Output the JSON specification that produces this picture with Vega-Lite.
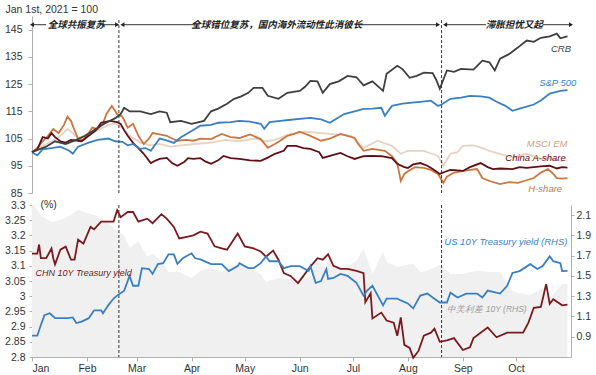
{
"$schema": "https://vega.github.io/schema/vega-lite/v6.json",
"padding": {"left": 4, "top": 4, "right": 4, "bottom": 4},
"bounds": "flush",
"spacing": 12,
"config": {
  "view": {"stroke": null},
  "font": "Liberation Sans",
  "axis": {"labelFont": "Liberation Sans", "labelFontSize": 10.5, "labelColor": "#333333", "domainColor": "#b0b0b0", "tickColor": "#b0b0b0", "grid": false, "titleFont": "Liberation Sans", "titleFontWeight": "normal", "titleFontSize": 10.5, "titleColor": "#333333"}
},
"datasets": {
  "crb": [
    {"d":"2021-01-01","v":100},{"d":"2021-01-05","v":101},{"d":"2021-01-09","v":102},{"d":"2021-01-14","v":104},{"d":"2021-01-20","v":103},{"d":"2021-01-26","v":104.5},{"d":"2021-01-31","v":106},{"d":"2021-02-06","v":108.5},{"d":"2021-02-11","v":110.5},{"d":"2021-02-17","v":112.5},{"d":"2021-02-20","v":114},{"d":"2021-02-22","v":116.3},{"d":"2021-02-25","v":115},{"d":"2021-03-03","v":115},{"d":"2021-03-09","v":114},{"d":"2021-03-14","v":115},{"d":"2021-03-18","v":114.5},{"d":"2021-03-20","v":111},{"d":"2021-03-26","v":111.5},{"d":"2021-04-01","v":110.4},{"d":"2021-04-08","v":111.5},{"d":"2021-04-12","v":115},{"d":"2021-04-16","v":116},{"d":"2021-04-21","v":117.8},{"d":"2021-04-25","v":119.6},{"d":"2021-04-29","v":120.5},{"d":"2021-05-03","v":121.8},{"d":"2021-05-06","v":123.6},{"d":"2021-05-11","v":123.6},{"d":"2021-05-14","v":120.7},{"d":"2021-05-20","v":119.6},{"d":"2021-05-25","v":121.8},{"d":"2021-06-01","v":122.5},{"d":"2021-06-04","v":124},{"d":"2021-06-07","v":126.2},{"d":"2021-06-11","v":126},{"d":"2021-06-14","v":121.8},{"d":"2021-06-18","v":125},{"d":"2021-06-23","v":126},{"d":"2021-06-28","v":128},{"d":"2021-07-03","v":127.5},{"d":"2021-07-07","v":124.5},{"d":"2021-07-12","v":126},{"d":"2021-07-18","v":122.5},{"d":"2021-07-20","v":128.8},{"d":"2021-07-26","v":131.7},{"d":"2021-07-29","v":130.5},{"d":"2021-08-02","v":127.3},{"d":"2021-08-06","v":128},{"d":"2021-08-10","v":129.2},{"d":"2021-08-15","v":129},{"d":"2021-08-17","v":126.5},{"d":"2021-08-19","v":123.3},{"d":"2021-08-23","v":130},{"d":"2021-08-27","v":129.5},{"d":"2021-08-31","v":130.6},{"d":"2021-09-07","v":130.3},{"d":"2021-09-12","v":133.6},{"d":"2021-09-16","v":133},{"d":"2021-09-19","v":130},{"d":"2021-09-22","v":134.3},{"d":"2021-09-27","v":136},{"d":"2021-10-02","v":138.4},{"d":"2021-10-07","v":141},{"d":"2021-10-11","v":140.5},{"d":"2021-10-15","v":142},{"d":"2021-10-20","v":142.5},{"d":"2021-10-24","v":143.5},{"d":"2021-10-26","v":141.8},{"d":"2021-10-30","v":142.5}
  ],
  "spx": [
    {"d":"2021-01-01","v":100},{"d":"2021-01-04","v":98.8},{"d":"2021-01-07","v":101},{"d":"2021-01-12","v":101.5},{"d":"2021-01-17","v":102},{"d":"2021-01-22","v":100.5},{"d":"2021-01-24","v":99.4},{"d":"2021-01-27","v":102},{"d":"2021-02-02","v":103.5},{"d":"2021-02-07","v":104.5},{"d":"2021-02-13","v":105},{"d":"2021-02-17","v":104},{"d":"2021-02-21","v":103.8},{"d":"2021-02-24","v":102.5},{"d":"2021-02-27","v":103},{"d":"2021-03-03","v":101.2},{"d":"2021-03-06","v":101.5},{"d":"2021-03-09","v":100.5},{"d":"2021-03-14","v":105},{"d":"2021-03-17","v":104.5},{"d":"2021-03-22","v":103.4},{"d":"2021-03-26","v":105.5},{"d":"2021-04-01","v":107.8},{"d":"2021-04-06","v":109.7},{"d":"2021-04-12","v":110},{"d":"2021-04-16","v":110.8},{"d":"2021-04-23","v":111},{"d":"2021-04-28","v":111.5},{"d":"2021-05-04","v":111.2},{"d":"2021-05-10","v":110.4},{"d":"2021-05-12","v":108.6},{"d":"2021-05-15","v":111},{"d":"2021-05-21","v":111.5},{"d":"2021-05-27","v":111.9},{"d":"2021-06-01","v":112.2},{"d":"2021-06-07","v":112.6},{"d":"2021-06-13","v":112},{"d":"2021-06-18","v":110.8},{"d":"2021-06-26","v":114},{"d":"2021-07-02","v":115},{"d":"2021-07-07","v":115.9},{"d":"2021-07-12","v":116},{"d":"2021-07-17","v":116.3},{"d":"2021-07-19","v":113.4},{"d":"2021-07-23","v":117},{"d":"2021-07-29","v":117.8},{"d":"2021-08-02","v":118.1},{"d":"2021-08-08","v":118.5},{"d":"2021-08-14","v":118.9},{"d":"2021-08-18","v":117},{"d":"2021-08-20","v":117.5},{"d":"2021-08-25","v":119.6},{"d":"2021-08-31","v":120},{"d":"2021-09-05","v":120.7},{"d":"2021-09-11","v":120.5},{"d":"2021-09-16","v":120},{"d":"2021-09-20","v":118.5},{"d":"2021-09-25","v":117},{"d":"2021-09-29","v":115.2},{"d":"2021-10-03","v":116},{"d":"2021-10-11","v":117.5},{"d":"2021-10-15","v":119},{"d":"2021-10-20","v":121.5},{"d":"2021-10-26","v":122.5},{"d":"2021-10-30","v":122.8}
  ],
  "csi": [
    {"d":"2021-01-01","v":100},{"d":"2021-01-04","v":101},{"d":"2021-01-07","v":105.5},{"d":"2021-01-10","v":105},{"d":"2021-01-12","v":107},{"d":"2021-01-14","v":105.5},{"d":"2021-01-17","v":104},{"d":"2021-01-20","v":103.5},{"d":"2021-01-23","v":104.5},{"d":"2021-01-29","v":104},{"d":"2021-01-31","v":105},{"d":"2021-02-06","v":108},{"d":"2021-02-09","v":110.8},{"d":"2021-02-14","v":111.5},{"d":"2021-02-18","v":111},{"d":"2021-02-20","v":110.4},{"d":"2021-02-22","v":108},{"d":"2021-02-24","v":106},{"d":"2021-02-27","v":103.4},{"d":"2021-03-02","v":101.5},{"d":"2021-03-05","v":99.4},{"d":"2021-03-09","v":96},{"d":"2021-03-12","v":97},{"d":"2021-03-14","v":97.5},{"d":"2021-03-18","v":97.9},{"d":"2021-03-21","v":96},{"d":"2021-03-24","v":95},{"d":"2021-03-28","v":96.5},{"d":"2021-03-30","v":97.8},{"d":"2021-04-02","v":97.5},{"d":"2021-04-06","v":97.8},{"d":"2021-04-09","v":96.5},{"d":"2021-04-12","v":95.7},{"d":"2021-04-16","v":97},{"d":"2021-04-19","v":98.6},{"d":"2021-04-23","v":97.8},{"d":"2021-04-28","v":97.5},{"d":"2021-05-04","v":97},{"d":"2021-05-10","v":96.8},{"d":"2021-05-14","v":98},{"d":"2021-05-18","v":99.4},{"d":"2021-05-23","v":100.5},{"d":"2021-05-25","v":102.3},{"d":"2021-05-30","v":102.3},{"d":"2021-06-03","v":101.5},{"d":"2021-06-07","v":101.2},{"d":"2021-06-12","v":100},{"d":"2021-06-14","v":97.9},{"d":"2021-06-20","v":99},{"d":"2021-06-24","v":99.7},{"d":"2021-06-28","v":98.5},{"d":"2021-07-02","v":97.5},{"d":"2021-07-07","v":98.5},{"d":"2021-07-11","v":98.6},{"d":"2021-07-17","v":98.5},{"d":"2021-07-23","v":97.8},{"d":"2021-07-26","v":95.7},{"d":"2021-07-30","v":94.5},{"d":"2021-08-01","v":94.2},{"d":"2021-08-04","v":95.5},{"d":"2021-08-08","v":96},{"d":"2021-08-12","v":95},{"d":"2021-08-15","v":93.8},{"d":"2021-08-19","v":92},{"d":"2021-08-22","v":92.8},{"d":"2021-08-25","v":93.5},{"d":"2021-08-29","v":93.3},{"d":"2021-09-01","v":93.1},{"d":"2021-09-05","v":94.5},{"d":"2021-09-11","v":96},{"d":"2021-09-15","v":94.5},{"d":"2021-09-18","v":93.8},{"d":"2021-09-22","v":94},{"d":"2021-09-29","v":93.8},{"d":"2021-10-03","v":94.5},{"d":"2021-10-07","v":94.2},{"d":"2021-10-15","v":94.8},{"d":"2021-10-20","v":95},{"d":"2021-10-24","v":94},{"d":"2021-10-27","v":94.5},{"d":"2021-10-30","v":94.3}
  ],
  "hsi": [
    {"d":"2021-01-01","v":100},{"d":"2021-01-04","v":101.5},{"d":"2021-01-07","v":104},{"d":"2021-01-10","v":106},{"d":"2021-01-13","v":108.5},{"d":"2021-01-16","v":107},{"d":"2021-01-19","v":110},{"d":"2021-01-21","v":113},{"d":"2021-01-23","v":111.5},{"d":"2021-01-25","v":108},{"d":"2021-01-27","v":105},{"d":"2021-01-30","v":104.5},{"d":"2021-02-02","v":107},{"d":"2021-02-04","v":109},{"d":"2021-02-07","v":108.5},{"d":"2021-02-10","v":110.5},{"d":"2021-02-12","v":114},{"d":"2021-02-15","v":117},{"d":"2021-02-18","v":114},{"d":"2021-02-21","v":113},{"d":"2021-02-24","v":109},{"d":"2021-02-27","v":110.4},{"d":"2021-03-02","v":106},{"d":"2021-03-05","v":103},{"d":"2021-03-08","v":105},{"d":"2021-03-10","v":107},{"d":"2021-03-14","v":106.5},{"d":"2021-03-18","v":106},{"d":"2021-03-21","v":105},{"d":"2021-03-24","v":104.2},{"d":"2021-03-29","v":104.5},{"d":"2021-04-02","v":104.2},{"d":"2021-04-06","v":105},{"d":"2021-04-12","v":104.8},{"d":"2021-04-18","v":106.7},{"d":"2021-04-23","v":105.5},{"d":"2021-04-28","v":105.2},{"d":"2021-05-04","v":106.5},{"d":"2021-05-10","v":104.8},{"d":"2021-05-14","v":101.6},{"d":"2021-05-18","v":103},{"d":"2021-05-21","v":104.2},{"d":"2021-05-25","v":106},{"d":"2021-05-29","v":106.7},{"d":"2021-06-01","v":107.5},{"d":"2021-06-07","v":106},{"d":"2021-06-13","v":104.2},{"d":"2021-06-18","v":105},{"d":"2021-06-24","v":106.7},{"d":"2021-06-28","v":106},{"d":"2021-07-02","v":105.2},{"d":"2021-07-04","v":103},{"d":"2021-07-07","v":100.5},{"d":"2021-07-12","v":101.2},{"d":"2021-07-19","v":100.5},{"d":"2021-07-23","v":98.5},{"d":"2021-07-26","v":96},{"d":"2021-07-28","v":89.4},{"d":"2021-07-30","v":92},{"d":"2021-08-01","v":93},{"d":"2021-08-05","v":94.5},{"d":"2021-08-10","v":94.2},{"d":"2021-08-14","v":93.5},{"d":"2021-08-18","v":92},{"d":"2021-08-21","v":88.7},{"d":"2021-08-23","v":91},{"d":"2021-08-27","v":92.5},{"d":"2021-09-01","v":93},{"d":"2021-09-05","v":93.5},{"d":"2021-09-09","v":93.8},{"d":"2021-09-12","v":90.5},{"d":"2021-09-16","v":89.4},{"d":"2021-09-22","v":88.3},{"d":"2021-09-27","v":89},{"d":"2021-10-02","v":88.7},{"d":"2021-10-06","v":89.5},{"d":"2021-10-11","v":90.5},{"d":"2021-10-15","v":92.5},{"d":"2021-10-19","v":93.8},{"d":"2021-10-22","v":92},{"d":"2021-10-24","v":90.5},{"d":"2021-10-27","v":90.3},{"d":"2021-10-30","v":90.5}
  ],
  "msci": [
    {"d":"2021-01-01","v":100},{"d":"2021-01-06","v":102},{"d":"2021-01-12","v":104},{"d":"2021-01-17","v":106},{"d":"2021-01-21","v":108.5},{"d":"2021-01-24","v":107},{"d":"2021-01-27","v":105},{"d":"2021-02-02","v":107},{"d":"2021-02-07","v":108},{"d":"2021-02-13","v":110},{"d":"2021-02-17","v":110.5},{"d":"2021-02-21","v":109},{"d":"2021-02-25","v":106},{"d":"2021-03-03","v":103.5},{"d":"2021-03-09","v":102.5},{"d":"2021-03-14","v":103},{"d":"2021-03-20","v":102},{"d":"2021-03-26","v":102.5},{"d":"2021-04-03","v":103},{"d":"2021-04-12","v":103.5},{"d":"2021-04-20","v":104.5},{"d":"2021-04-28","v":104},{"d":"2021-05-07","v":105},{"d":"2021-05-13","v":104},{"d":"2021-05-18","v":104.5},{"d":"2021-05-27","v":106.7},{"d":"2021-06-04","v":107.5},{"d":"2021-06-13","v":107},{"d":"2021-06-21","v":106.5},{"d":"2021-06-30","v":106},{"d":"2021-07-07","v":101.6},{"d":"2021-07-15","v":104.2},{"d":"2021-07-23","v":102.3},{"d":"2021-07-28","v":99.4},{"d":"2021-08-01","v":100.5},{"d":"2021-08-04","v":100.5},{"d":"2021-08-10","v":100.5},{"d":"2021-08-14","v":99.5},{"d":"2021-08-18","v":98.6},{"d":"2021-08-21","v":95},{"d":"2021-08-25","v":99.4},{"d":"2021-08-29","v":100},{"d":"2021-09-01","v":102.3},{"d":"2021-09-07","v":102.5},{"d":"2021-09-12","v":101.5},{"d":"2021-09-16","v":100.5},{"d":"2021-09-22","v":99.4},{"d":"2021-09-29","v":97.9},{"d":"2021-10-07","v":99.4},{"d":"2021-10-15","v":97.5},{"d":"2021-10-20","v":97.8},{"d":"2021-10-26","v":96.8},{"d":"2021-10-30","v":97}
  ],
  "cn10": [
    {"d":"2021-01-01","v":3.14},{"d":"2021-01-04","v":3.14},{"d":"2021-01-05","v":3.17},{"d":"2021-01-06","v":3.125},{"d":"2021-01-09","v":3.125},{"d":"2021-01-12","v":3.157},{"d":"2021-01-13","v":3.125},{"d":"2021-01-14","v":3.105},{"d":"2021-01-17","v":3.153},{"d":"2021-01-20","v":3.163},{"d":"2021-01-23","v":3.12},{"d":"2021-01-25","v":3.12},{"d":"2021-01-27","v":3.186},{"d":"2021-01-30","v":3.173},{"d":"2021-02-03","v":3.228},{"d":"2021-02-05","v":3.22},{"d":"2021-02-09","v":3.245},{"d":"2021-02-16","v":3.245},{"d":"2021-02-18","v":3.283},{"d":"2021-02-20","v":3.26},{"d":"2021-02-24","v":3.277},{"d":"2021-02-27","v":3.277},{"d":"2021-03-02","v":3.245},{"d":"2021-03-07","v":3.255},{"d":"2021-03-10","v":3.24},{"d":"2021-03-15","v":3.27},{"d":"2021-03-18","v":3.255},{"d":"2021-03-22","v":3.228},{"d":"2021-03-25","v":3.19},{"d":"2021-03-30","v":3.196},{"d":"2021-04-02","v":3.2},{"d":"2021-04-06","v":3.212},{"d":"2021-04-10","v":3.206},{"d":"2021-04-14","v":3.164},{"d":"2021-04-18","v":3.157},{"d":"2021-04-21","v":3.153},{"d":"2021-04-27","v":3.206},{"d":"2021-05-01","v":3.164},{"d":"2021-05-06","v":3.157},{"d":"2021-05-10","v":3.147},{"d":"2021-05-13","v":3.13},{"d":"2021-05-17","v":3.15},{"d":"2021-05-20","v":3.12},{"d":"2021-05-23","v":3.076},{"d":"2021-05-27","v":3.066},{"d":"2021-05-31","v":3.043},{"d":"2021-06-03","v":3.066},{"d":"2021-06-06","v":3.09},{"d":"2021-06-11","v":3.125},{"d":"2021-06-14","v":3.12},{"d":"2021-06-17","v":3.138},{"d":"2021-06-20","v":3.1},{"d":"2021-06-24","v":3.09},{"d":"2021-06-28","v":3.09},{"d":"2021-07-03","v":3.083},{"d":"2021-07-07","v":3.076},{"d":"2021-07-08","v":2.98},{"d":"2021-07-11","v":3.01},{"d":"2021-07-12","v":2.927},{"d":"2021-07-17","v":2.946},{"d":"2021-07-20","v":2.92},{"d":"2021-07-24","v":2.913},{"d":"2021-07-26","v":2.87},{"d":"2021-07-28","v":2.93},{"d":"2021-07-30","v":2.84},{"d":"2021-08-02","v":2.83},{"d":"2021-08-04","v":2.797},{"d":"2021-08-07","v":2.82},{"d":"2021-08-10","v":2.87},{"d":"2021-08-14","v":2.88},{"d":"2021-08-16","v":2.893},{"d":"2021-08-19","v":2.85},{"d":"2021-08-23","v":2.855},{"d":"2021-08-27","v":2.862},{"d":"2021-09-01","v":2.823},{"d":"2021-09-05","v":2.832},{"d":"2021-09-07","v":2.862},{"d":"2021-09-15","v":2.897},{"d":"2021-09-20","v":2.865},{"d":"2021-09-26","v":2.88},{"d":"2021-10-05","v":2.88},{"d":"2021-10-08","v":2.913},{"d":"2021-10-11","v":2.962},{"d":"2021-10-15","v":2.965},{"d":"2021-10-18","v":3.04},{"d":"2021-10-20","v":2.975},{"d":"2021-10-22","v":2.99},{"d":"2021-10-27","v":2.97},{"d":"2021-10-30","v":2.972}
  ],
  "us10": [
    {"d":"2021-01-01","v":0.91},{"d":"2021-01-04","v":0.91},{"d":"2021-01-06","v":1.016},{"d":"2021-01-08","v":1.113},{"d":"2021-01-11","v":1.132},{"d":"2021-01-13","v":1.1},{"d":"2021-01-14","v":1.083},{"d":"2021-01-21","v":1.083},{"d":"2021-01-24","v":1.09},{"d":"2021-01-26","v":1.035},{"d":"2021-01-29","v":1.05},{"d":"2021-02-02","v":1.083},{"d":"2021-02-05","v":1.161},{"d":"2021-02-09","v":1.161},{"d":"2021-02-10","v":1.132},{"d":"2021-02-13","v":1.21},{"d":"2021-02-16","v":1.277},{"d":"2021-02-18","v":1.306},{"d":"2021-02-22","v":1.355},{"d":"2021-02-25","v":1.5},{"d":"2021-02-27","v":1.403},{"d":"2021-03-02","v":1.403},{"d":"2021-03-04","v":1.577},{"d":"2021-03-08","v":1.568},{"d":"2021-03-10","v":1.52},{"d":"2021-03-13","v":1.616},{"d":"2021-03-16","v":1.626},{"d":"2021-03-19","v":1.713},{"d":"2021-03-22","v":1.713},{"d":"2021-03-24","v":1.62},{"d":"2021-03-27","v":1.674},{"d":"2021-04-01","v":1.723},{"d":"2021-04-03","v":1.674},{"d":"2021-04-06","v":1.664},{"d":"2021-04-12","v":1.616},{"d":"2021-04-18","v":1.616},{"d":"2021-04-22","v":1.548},{"d":"2021-04-27","v":1.597},{"d":"2021-04-28","v":1.626},{"d":"2021-05-03","v":1.577},{"d":"2021-05-06","v":1.577},{"d":"2021-05-10","v":1.626},{"d":"2021-05-13","v":1.693},{"d":"2021-05-15","v":1.645},{"d":"2021-05-20","v":1.645},{"d":"2021-05-23","v":1.577},{"d":"2021-05-27","v":1.597},{"d":"2021-06-01","v":1.597},{"d":"2021-06-06","v":1.548},{"d":"2021-06-07","v":1.597},{"d":"2021-06-10","v":1.432},{"d":"2021-06-13","v":1.45},{"d":"2021-06-16","v":1.568},{"d":"2021-06-17","v":1.471},{"d":"2021-06-20","v":1.48},{"d":"2021-06-24","v":1.52},{"d":"2021-06-28","v":1.5},{"d":"2021-07-03","v":1.432},{"d":"2021-07-07","v":1.306},{"d":"2021-07-09","v":1.355},{"d":"2021-07-12","v":1.403},{"d":"2021-07-18","v":1.21},{"d":"2021-07-20","v":1.277},{"d":"2021-07-26","v":1.277},{"d":"2021-07-28","v":1.258},{"d":"2021-08-01","v":1.229},{"d":"2021-08-04","v":1.18},{"d":"2021-08-08","v":1.306},{"d":"2021-08-12","v":1.326},{"d":"2021-08-15","v":1.287},{"d":"2021-08-19","v":1.238},{"d":"2021-08-23","v":1.238},{"d":"2021-08-25","v":1.335},{"d":"2021-08-29","v":1.287},{"d":"2021-09-03","v":1.326},{"d":"2021-09-09","v":1.326},{"d":"2021-09-12","v":1.287},{"d":"2021-09-15","v":1.355},{"d":"2021-09-22","v":1.326},{"d":"2021-09-26","v":1.403},{"d":"2021-09-29","v":1.529},{"d":"2021-10-03","v":1.548},{"d":"2021-10-09","v":1.616},{"d":"2021-10-13","v":1.568},{"d":"2021-10-16","v":1.597},{"d":"2021-10-20","v":1.693},{"d":"2021-10-22","v":1.645},{"d":"2021-10-26","v":1.626},{"d":"2021-10-27","v":1.548},{"d":"2021-10-30","v":1.55}
  ],
  "spread": [
    {"d":"2021-01-01","v":2.23},{"d":"2021-01-06","v":2.1},{"d":"2021-01-12","v":2.03},{"d":"2021-01-20","v":2.07},{"d":"2021-01-27","v":2.15},{"d":"2021-02-03","v":2.11},{"d":"2021-02-09","v":2.08},{"d":"2021-02-16","v":1.97},{"d":"2021-02-22","v":1.9},{"d":"2021-02-25","v":1.78},{"d":"2021-03-02","v":1.84},{"d":"2021-03-07","v":1.69},{"d":"2021-03-10","v":1.72},{"d":"2021-03-15","v":1.65},{"d":"2021-03-19","v":1.54},{"d":"2021-03-25","v":1.54},{"d":"2021-04-01","v":1.48},{"d":"2021-04-06","v":1.55},{"d":"2021-04-12","v":1.58},{"d":"2021-04-18","v":1.54},{"d":"2021-04-22","v":1.6},{"d":"2021-04-27","v":1.61},{"d":"2021-05-03","v":1.59},{"d":"2021-05-10","v":1.52},{"d":"2021-05-13","v":1.44},{"d":"2021-05-20","v":1.48},{"d":"2021-05-27","v":1.47},{"d":"2021-06-01","v":1.45},{"d":"2021-06-07","v":1.49},{"d":"2021-06-10","v":1.68},{"d":"2021-06-16","v":1.56},{"d":"2021-06-17","v":1.67},{"d":"2021-06-24","v":1.57},{"d":"2021-06-28","v":1.59},{"d":"2021-07-03","v":1.65},{"d":"2021-07-07","v":1.77},{"d":"2021-07-12","v":1.52},{"d":"2021-07-18","v":1.74},{"d":"2021-07-20","v":1.64},{"d":"2021-07-26","v":1.59},{"d":"2021-08-01","v":1.61},{"d":"2021-08-04","v":1.62},{"d":"2021-08-08","v":1.54},{"d":"2021-08-12","v":1.55},{"d":"2021-08-19","v":1.61},{"d":"2021-08-25","v":1.52},{"d":"2021-09-01","v":1.52},{"d":"2021-09-09","v":1.55},{"d":"2021-09-15","v":1.54},{"d":"2021-09-22","v":1.54},{"d":"2021-09-29","v":1.35},{"d":"2021-10-03","v":1.33},{"d":"2021-10-09","v":1.31},{"d":"2021-10-16","v":1.38},{"d":"2021-10-20","v":1.28},{"d":"2021-10-27","v":1.42},{"d":"2021-10-30","v":1.42}
  ],
  "phases": [
    {"d":"2021-02-19","v":148.5,"v2":85},{"d":"2021-08-20","v":148.5,"v2":85}
  ]
},
"vconcat": [
  {
    "width": 539,
    "height": 177,
    "encoding": {
      "x": {"field": "d", "type": "temporal", "scale": {"type": "utc", "domain": [{"year": 2021, "month": 1, "date": 1, "utc": true}, {"year": 2021, "month": 11, "date": 1, "utc": true}]}, "axis": null},
      "y": {"field": "v", "type": "quantitative", "scale": {"domain": [85, 150]}, "axis": {"values": [85, 95, 105, 115, 125, 135, 145], "title": "Jan 1st, 2021 = 100", "titleAngle": 0, "titleAlign": "left", "titleBaseline": "top", "titleX": -27, "titleY": -12, "tickSize": 4, "labelPadding": 6}}
    },
    "layer": [
      {"data": {"name": "msci"}, "mark": {"type": "line", "color": "#e6d3c1", "strokeWidth": 1.8}},
      {"data": {"name": "hsi"}, "mark": {"type": "line", "color": "#cc7640", "strokeWidth": 1.8}},
      {"data": {"name": "csi"}, "mark": {"type": "line", "color": "#5e1015", "strokeWidth": 1.8}},
      {"data": {"name": "spx"}, "mark": {"type": "line", "color": "#3a7fc1", "strokeWidth": 1.8}},
      {"data": {"name": "crb"}, "mark": {"type": "line", "color": "#3f3f3f", "strokeWidth": 1.8}},
      {
        "data": {"name": "phases"},
        "mark": {"type": "rule", "color": "#333333", "strokeDash": [3, 2], "strokeWidth": 1},
        "encoding": {"y2": {"field": "v2"}}
      },
      {
        "data": {"values": [
          {"d": "2021-01-01", "d2": "2021-01-09", "v": 146.8}, {"d": "2021-02-09", "d2": "2021-02-18", "v": 146.8},
          {"d": "2021-02-21", "d2": "2021-04-03", "v": 146.8}, {"d": "2021-07-05", "d2": "2021-08-18", "v": 146.8},
          {"d": "2021-08-22", "d2": "2021-09-14", "v": 146.8}, {"d": "2021-10-16", "d2": "2021-11-01", "v": 146.8}
        ]},
        "mark": {"type": "rule", "color": "#333333", "strokeWidth": 1},
        "encoding": {"x2": {"field": "d2"}}
      },
      {
        "data": {"values": [{"d": "2021-01-01", "v": 146.8}, {"d": "2021-02-21", "v": 146.8}, {"d": "2021-08-22", "v": 146.8}]},
        "mark": {"type": "point", "shape": "triangle-left", "filled": true, "color": "#222222", "size": 22, "opacity": 1}
      },
      {
        "data": {"values": [{"d": "2021-02-18", "v": 146.8}, {"d": "2021-08-18", "v": 146.8}, {"d": "2021-11-01", "v": 146.8}]},
        "mark": {"type": "point", "shape": "triangle-right", "filled": true, "color": "#222222", "size": 22, "opacity": 1}
      },
      {
        "data": {"values": [
          {"d": "2021-01-26", "v": 146.8, "label": "全球共振复苏"},
          {"d": "2021-05-19", "v": 146.8, "label": "全球错位复苏，国内海外流动性此消彼长"},
          {"d": "2021-09-30", "v": 146.8, "label": "滞胀担忧又起"}
        ]},
        "mark": {"type": "text", "font": "Noto Sans CJK SC", "fontSize": 9.5, "fontStyle": "italic", "fontWeight": "bold", "color": "#222222", "align": "center", "baseline": "middle"},
        "encoding": {"text": {"field": "label"}}
      },
      {
        "data": {"values": [{"d": "2021-11-01", "v": 138, "label": "CRB"}]},
        "mark": {"type": "text", "font": "Liberation Sans", "fontSize": 9.5, "fontStyle": "italic", "align": "right", "baseline": "middle", "color": "#444444"},
        "encoding": {"text": {"field": "label"}}
      },
      {
        "data": {"values": [{"d": "2021-11-04", "v": 125.5, "label": "S&P 500"}]},
        "mark": {"type": "text", "font": "Liberation Sans", "fontSize": 9.5, "fontStyle": "italic", "align": "right", "baseline": "middle", "color": "#3a7fc1"},
        "encoding": {"text": {"field": "label"}}
      },
      {
        "data": {"values": [{"d": "2021-10-30", "v": 103, "label": "MSCI EM"}]},
        "mark": {"type": "text", "font": "Liberation Sans", "fontSize": 9.5, "fontStyle": "italic", "align": "right", "baseline": "middle", "color": "#d6a27a"},
        "encoding": {"text": {"field": "label"}}
      },
      {
        "data": {"values": [{"d": "2021-10-29", "v": 97.9, "label": "China A-share"}]},
        "mark": {"type": "text", "font": "Liberation Sans", "fontSize": 9.5, "fontStyle": "italic", "align": "right", "baseline": "middle", "color": "#5e1015"},
        "encoding": {"text": {"field": "label"}}
      },
      {
        "data": {"values": [{"d": "2021-10-27", "v": 86.5, "label": "H-share"}]},
        "mark": {"type": "text", "font": "Liberation Sans", "fontSize": 9.5, "fontStyle": "italic", "align": "right", "baseline": "middle", "color": "#cc7640"},
        "encoding": {"text": {"field": "label"}}
      }
    ]
  },
  {
    "width": 539,
    "height": 152,
    "encoding": {
      "x": {"field": "d", "type": "temporal", "scale": {"type": "utc", "domain": [{"year": 2021, "month": 1, "date": 1, "utc": true}, {"year": 2021, "month": 11, "date": 1, "utc": true}]}, "axis": {"values": [{"year": 2021, "month": 1, "date": 1, "utc": true}, {"year": 2021, "month": 2, "date": 1, "utc": true}, {"year": 2021, "month": 3, "date": 1, "utc": true}, {"year": 2021, "month": 4, "date": 1, "utc": true}, {"year": 2021, "month": 5, "date": 1, "utc": true}, {"year": 2021, "month": 6, "date": 1, "utc": true}, {"year": 2021, "month": 7, "date": 1, "utc": true}, {"year": 2021, "month": 8, "date": 1, "utc": true}, {"year": 2021, "month": 9, "date": 1, "utc": true}, {"year": 2021, "month": 10, "date": 1, "utc": true}], "format": "%b", "title": null, "tickSize": 4, "labelPadding": 2}}
    },
    "resolve": {"scale": {"y": "independent"}, "axis": {"y": "independent"}},
    "layer": [
      {
        "data": {"name": "spread"},
        "mark": {"type": "area", "color": "#f0f0f0", "clip": true},
        "encoding": {
          "y": {"field": "v", "type": "quantitative", "scale": {"domain": [0.7, 2.2]}, "axis": null},
          "y2": {"datum": 0.7}
        }
      },
      {
        "data": {"name": "phases"},
        "mark": {"type": "rule", "color": "#333333", "strokeDash": [3, 2], "strokeWidth": 1},
        "encoding": {}
      },
      {
        "data": {"name": "cn10"},
        "mark": {"type": "line", "color": "#7a1a1f", "strokeWidth": 1.8},
        "encoding": {
          "y": {"field": "v", "type": "quantitative", "scale": {"domain": [2.8, 3.3]}, "axis": {"orient": "left", "values": [2.8, 2.85, 2.9, 2.95, 3, 3.05, 3.1, 3.15, 3.2, 3.25, 3.3], "format": "~g", "title": "(%)", "titleAngle": 0, "titleAlign": "left", "titleBaseline": "top", "titleX": 8, "titleY": -6, "tickSize": 3, "labelPadding": 4}}
        }
      },
      {
        "data": {"name": "us10"},
        "mark": {"type": "line", "color": "#3a7fc1", "strokeWidth": 1.8},
        "encoding": {
          "y": {"field": "v", "type": "quantitative", "scale": {"domain": [0.7, 2.2]}, "axis": {"orient": "right", "values": [0.9, 1.1, 1.3, 1.5, 1.7, 1.9, 2.1], "format": "~g", "title": null, "tickSize": 3, "labelPadding": 2}}
        }
      },
      {
        "data": {"values": [{"d": "2021-01-03", "v": 3.076, "label": "CHN 10Y Treasury yield"}]},
        "mark": {"type": "text", "font": "Liberation Sans", "fontSize": 9, "fontStyle": "italic", "align": "left", "baseline": "middle", "color": "#6a1a20"},
        "encoding": {
          "text": {"field": "label"},
          "y": {"field": "v", "type": "quantitative", "scale": {"domain": [2.8, 3.3]}, "axis": null}
        }
      },
      {
        "data": {"values": [{"d": "2021-10-30", "v": 1.837, "label": "US 10Y Treasury yield (RHS)"}]},
        "mark": {"type": "text", "font": "Liberation Sans", "fontSize": 9.5, "fontStyle": "italic", "align": "right", "baseline": "middle", "color": "#3a7fc1"},
        "encoding": {
          "text": {"field": "label"},
          "y": {"field": "v", "type": "quantitative", "scale": {"domain": [0.7, 2.2]}, "axis": null}
        }
      },
      {
        "data": {"values": [{"d": "2021-10-07", "v": 1.175, "label": "中美利差 10Y (RHS)"}]},
        "mark": {"type": "text", "font": "Liberation Sans", "fontSize": 8.5, "fontStyle": "italic", "align": "right", "baseline": "middle", "color": "#9a9a9a"},
        "encoding": {
          "text": {"field": "label"},
          "y": {"field": "v", "type": "quantitative", "scale": {"domain": [0.7, 2.2]}, "axis": null}
        }
      }
    ]
  }
]
}
